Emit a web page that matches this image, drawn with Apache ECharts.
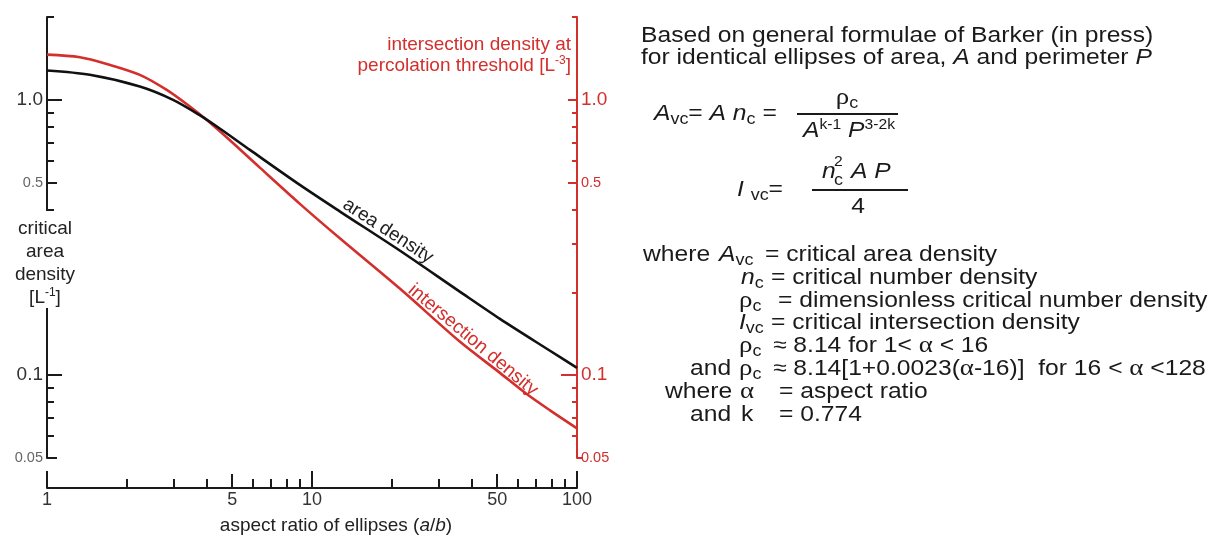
<!DOCTYPE html>
<html><head><meta charset="utf-8">
<script src="https://cdn.jsdelivr.net/npm/echarts@6/dist/echarts.min.js"></script>
<style>html,body{margin:0;padding:0;background:#fff}#c{width:1221px;height:539px}</style>
</head><body><div id="c"></div>
<script>
// ---- data ----
const aspectRatioArea = [1, 1.45, 2.24, 2.99, 3.78, 4.5, 5.83, 9.0, 12.8, 21.5, 36.2, 51.2, 79.1, 100];
const areaDensity = [1.278, 1.233, 1.118, 1.0, 0.878, 0.785, 0.658, 0.491, 0.392, 0.283, 0.2007, 0.1601, 0.1226, 0.1063];
const aspectRatioInter = [1, 1.33, 1.68, 2.24, 2.83, 3.46, 4.0, 4.9, 6.37, 9.0, 12.8, 21.5, 36.2, 51.2, 64.8, 79.1, 100];
const intersectionDensity = [1.460, 1.429, 1.351, 1.233, 1.087, 0.946, 0.846, 0.713, 0.566, 0.419, 0.3128, 0.2058, 0.1321, 0.1019, 0.0852, 0.0745, 0.0641];
const xMinorTicks = [2, 3, 4, 6, 7, 8, 9, 20, 30, 40, 60, 70, 80, 90];
const xMidTicks = [5, 50];
const xMajorTicks = [1, 10, 100];
const xLabels = [1, 5, 10, 50, 100];
const yLeftMinor = [2, 0.9, 0.8, 0.7, 0.6, 0.4, 0.09, 0.08, 0.07, 0.06];
const yLeftMid = [0.5, 0.05];
const yLeftMajor = [1, 0.1];
const yRightMinor = [2, 0.9, 0.8, 0.7, 0.6, 0.4, 0.3, 0.2, 0.09, 0.08, 0.07, 0.06];
const yRightMid = [1, 0.5];
const yRightMajor = [0.1];
const yRightOuter = [0.05];
const yLabels = [1, 0.5, 0.1, 0.05];

// ---- styling ----
const FF = "'Liberation Sans', Arial, Helvetica, sans-serif";
const GF = "'Liberation Serif', 'Times New Roman', serif";
const RED = '#d32f2c';
const INK = '#1a1a1a';

function fmtY(v) {
  const near = (a, b) => Math.abs(a - b) < 1e-9;
  if (near(v, 1)) return '{b|1.0}';
  if (near(v, 0.1)) return '{b|0.1}';
  if (near(v, 0.5)) return '{s|0.5}';
  return '{s|0.05}';
}
function xAxisDef(ticks, len, main) {
  return {
    type: 'log', logBase: 10, min: 1, max: 100, position: 'bottom', offset: 30, gridIndex: 0,
    axisLine: { show: !!main, onZero: false, lineStyle: { color: INK, width: 2 } },
    axisTick: { show: true, inside: true, length: len, customValues: ticks, lineStyle: { color: INK, width: 2 } },
    axisLabel: main ? { show: true, customValues: xLabels, margin: 3, fontSize: 18, color: '#333', fontFamily: FF } : { show: false },
    splitLine: { show: false }, minorTick: { show: false }
  };
}
function yAxisDef(pos, ticks, len, color, opts) {
  opts = opts || {};
  return {
    type: 'log', logBase: 10, min: 0.05, max: 2, position: pos, gridIndex: 0,
    axisLine: { show: !!opts.main, onZero: false, lineStyle: { color: color, width: 2 } },
    axisTick: { show: true, inside: opts.outside ? false : true, length: len, customValues: ticks, lineStyle: { color: color, width: 2 } },
    axisLabel: opts.main ? {
      show: true, customValues: yLabels, margin: 4, formatter: fmtY,
      rich: {
        b: { fontSize: 19, color: pos === 'left' ? '#333' : color, fontFamily: FF },
        s: { fontSize: 14.5, color: pos === 'left' ? '#666' : color, fontFamily: FF }
      }
    } : { show: false },
    splitLine: { show: false }, minorTick: { show: false }
  };
}

// formula panel helpers
const FS = 22, SX = 1.12, GX = 641;
const R = {
  i: { fontFamily: FF, fontSize: FS, fontStyle: 'italic' },
  g: { fontFamily: GF, fontSize: FS + 2 },
  sub: { fontFamily: FF, fontSize: 16, padding: [11, 0, 0, 0] },
  sup: { fontFamily: FF, fontSize: 14, padding: [0, 0, 12, 0] }
};
function T(x, y, text, align, extra) {
  return {
    type: 'text', x: (x - GX) / SX, y: y,
    style: Object.assign({ text: text, fontFamily: FF, fontSize: FS, fill: INK, align: align || 'left',
      verticalAlign: 'middle', lineHeight: 28, rich: R }, extra || {})
  };
}
function BAR(x1, x2, y) {
  return { type: 'line', shape: { x1: (x1 - GX) / SX, y1: y, x2: (x2 - GX) / SX, y2: y }, style: { stroke: INK, lineWidth: 2 } };
}
const formula = [
  T(641, 36, 'Based on general formulae of Barker (in press)'),
  T(641, 58, 'for identical ellipses of area, {i|A} and perimeter {i|P}'),
  T(654, 114, '{i|A}{sub|vc}= {i|A n}{sub|c} ='),
  T(847, 98, '{g|ρ}{sub|c}', 'center'),
  BAR(797, 898, 114),
  T(849, 131, '{i|A}{sup|k-1} {i|P}{sup|3-2k}', 'center'),
  T(737, 190, '{i|I} {sub|vc}='),
  T(822, 172, '{i|n}'),
  T(834, 162, '2', 'left', { fontSize: 14 }),
  T(834, 181, 'c', 'left', { fontSize: 16 }),
  T(851, 172, '{i|A P}'),
  BAR(812, 908, 190),
  T(858, 207, '4', 'center'),
  T(643, 255, 'where'), T(719, 255, '{i|A}{sub|vc}'), T(765, 255, '= critical area density'),
  T(741, 278, '{i|n}{sub|c}'), T(771, 278, '= critical number density'),
  T(739, 301, '{g|ρ}{sub|c}'), T(778, 301, '= dimensionless critical number density'),
  T(739, 323, '{i|I}{sub|vc}'), T(771, 323, '= critical intersection density'),
  T(739, 346, '{g|ρ}{sub|c}'), T(773, 346, '≈ 8.14 for 1< {g|α} < 16'),
  T(690, 369, 'and'), T(739, 369, '{g|ρ}{sub|c}'), T(773, 369, '≈ 8.14[1+0.0023({g|α}-16)]  for 16 < {g|α} <128'),
  T(665, 392, 'where'), T(740, 392, '{g|α}'), T(779, 392, '= aspect ratio'),
  T(690, 415, 'and'), T(741, 415, 'k'), T(779, 415, '= 0.774')
];

const CR = {
  sup: { fontFamily: FF, fontSize: 12, padding: [0, 0, 10, 0] },
  i: { fontFamily: FF, fontSize: 19, fontStyle: 'italic' }
};
function CT(x, y, text, fill, align, rot) {
  return {
    type: 'text', x: x, y: y, rotation: rot || 0, z: 50,
    style: { text: text, fontFamily: FF, fontSize: 19, fill: fill, align: align, verticalAlign: 'middle', lineHeight: 24, rich: CR }
  };
}
const deg = Math.PI / 180;

const chart = echarts.init(document.getElementById('c'), null, { renderer: 'canvas' });
chart.setOption({
  animation: false,
  backgroundColor: '#fff',
  textStyle: { fontFamily: FF },
  grid: { left: 47, right: 644, top: 17, bottom: 81, containLabel: false },
  xAxis: [
    xAxisDef(xMinorTicks, 9, true),
    xAxisDef(xMidTicks, 14, false),
    xAxisDef(xMajorTicks, 17, false)
  ],
  yAxis: [
    yAxisDef('left', yLeftMinor, 7, INK, { main: true }),
    yAxisDef('left', yLeftMid, 10, INK),
    yAxisDef('left', yLeftMajor, 15, INK),
    yAxisDef('right', yRightMinor, 5, RED, { main: true }),
    yAxisDef('right', yRightMid, 9, RED),
    yAxisDef('right', yRightMajor, 16, RED),
    yAxisDef('right', yRightOuter, 6, RED, { outside: true })
  ],
  series: [
    {
      name: 'area density', type: 'line', xAxisIndex: 0, yAxisIndex: 0, smooth: 0.3, showSymbol: false, z: 3,
      data: aspectRatioArea.map((a, i) => [a, areaDensity[i]]),
      lineStyle: { color: '#111', width: 2.6 }
    },
    {
      name: 'intersection density', type: 'line', xAxisIndex: 0, yAxisIndex: 3, smooth: 0.3, showSymbol: false, z: 2,
      data: aspectRatioInter.map((a, i) => [a, intersectionDensity[i]]),
      lineStyle: { color: RED, width: 2.6 }
    }
  ],
  graphic: [
    { type: 'rect', z: 40, shape: { x: 41, y: 211, width: 12, height: 97 }, style: { fill: '#fff' } },
    CT(45, 229, 'critical', '#222', 'center'),
    CT(45, 252, 'area', '#222', 'center'),
    CT(45, 275, 'density', '#222', 'center'),
    CT(45, 298, '[L{sup|-1}]', '#222', 'center'),
    CT(571, 45, 'intersection density at', RED, 'right'),
    CT(571, 66, 'percolation threshold [L{sup|-3}]', RED, 'right'),
    CT(336, 526, 'aspect ratio of ellipses ({i|a}/{i|b})', '#222', 'center'),
    CT(388, 231, 'area density', '#222', 'center', -33 * deg),
    CT(473, 340, 'intersection density', RED, 'center', -40 * deg),
    { type: 'group', x: GX, y: 0, scaleX: SX, z: 50, children: formula }
  ]
});
</script>
</body></html>
